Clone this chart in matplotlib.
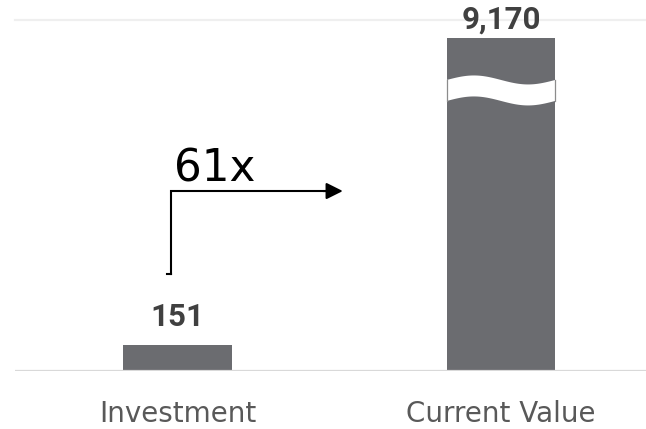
import numpy as np
import matplotlib
matplotlib.use("Agg")
import matplotlib.pyplot as plt
import matplotlib.transforms as mtransforms
from matplotlib.patches import Polygon

categories = ["Investment", "Current Value"]
values = [151, 9170]
value_labels = ["151", "9,170"]
multiple_label = "61x"
grid_value = 10000

# piecewise-linear (broken) y scale: linear near zero, compressed above
_xp = np.array([0.0, 858.0, 10000.0])
_fp = np.array([0.0, 147.7, 351.5])
_slope_hi = 0.02229


def fwd(y):
    y = np.asarray(y, dtype=float)
    return np.where(y <= _xp[-1], np.interp(y, _xp, _fp),
                    _fp[-1] + (y - _xp[-1]) * _slope_hi)


def inv(t):
    t = np.asarray(t, dtype=float)
    return np.where(t <= _fp[-1], np.interp(t, _fp, _xp),
                    _xp[-1] + (t - _fp[-1]) / _slope_hi)


fig = plt.figure(figsize=(6.46, 4.29), dpi=100)
ax = fig.add_axes([15 / 646, 58 / 429, 631 / 646, 351.5 / 429])
ax.set_yscale("function", functions=(fwd, inv))

bar_color = "#6b6c70"
x = np.arange(len(categories))
width = 0.335
ax.bar(x, values, width=width, color=bar_color, zorder=2)

ax.set_xlim(-0.502, 1.448)
ax.set_ylim(0, grid_value)

# gridline at top and baseline
ax.axhline(grid_value, color="#efefef", lw=1.6, zorder=1, clip_on=False)
ax.axhline(0, color="#d9d9d9", lw=1.6, zorder=3)

for s in ax.spines.values():
    s.set_visible(False)
ax.set_xticks([])
ax.set_yticks([])

# value labels
offsets = [14, 7]
for xi, v, lab, off in zip(x, values, value_labels, offsets):
    ax.annotate(lab, (xi, v), xytext=(0, off), textcoords="offset points",
                ha="center", va="baseline", fontsize=22.5, fontweight="bold",
                family=["Roboto", "DejaVu Sans"], color="#404040")

# category labels
for xi, c in zip(x, categories):
    ax.annotate(c, (xi, 0), xytext=(0, -36.5), textcoords="offset points",
                ha="center", va="baseline", fontsize=20,
                family="DejaVu Sans", color="#595959",
                xycoords=ax.get_xaxis_transform(), annotation_clip=False)

# break marker on the tall bar
trans = mtransforms.blended_transform_factory(ax.transData, ax.transAxes)
t = np.linspace(0, 1, 60)
x0, x1 = x[1] - width / 2, x[1] + width / 2
xs = x0 + (x1 - x0) * t
top = 0.828 + 0.0128 * np.sin(2 * np.pi * t)
bot = top - 0.0597
pts = np.column_stack([np.concatenate([xs, xs[::-1]]),
                       np.concatenate([top, bot[::-1]])])
ax.add_patch(Polygon(pts, closed=True, facecolor="white", edgecolor="none",
                     transform=trans, zorder=4))
for xe, i in [(x0, 0), (x1, -1)]:
    ax.plot([xe, xe], [bot[i], top[i]], color="#8c8c8c", lw=0.9,
            transform=trans, zorder=5)

# 61x arrow
ax.plot([-0.0207, -0.0207, 0.47], [0.276, 0.512, 0.512], color="black",
        lw=1.5, transform=trans, zorder=5, solid_joinstyle="miter")
ax.plot([-0.031, -0.0207], [0.276, 0.276], color="black", lw=1.5,
        transform=trans, zorder=5)
ax.annotate("", xy=(0.511, 0.512), xytext=(0.45, 0.512),
            xycoords=trans, textcoords=trans,
            arrowprops=dict(arrowstyle="-|>,head_length=1.0,head_width=0.5",
                            color="black", lw=1.5, shrinkA=0, shrinkB=0))
ax.text(-0.0114, 0.5385, multiple_label, transform=trans, fontsize=31.5,
        family="DejaVu Sans", color="black", ha="left", va="baseline")

fig.savefig("out.png", dpi=100)
